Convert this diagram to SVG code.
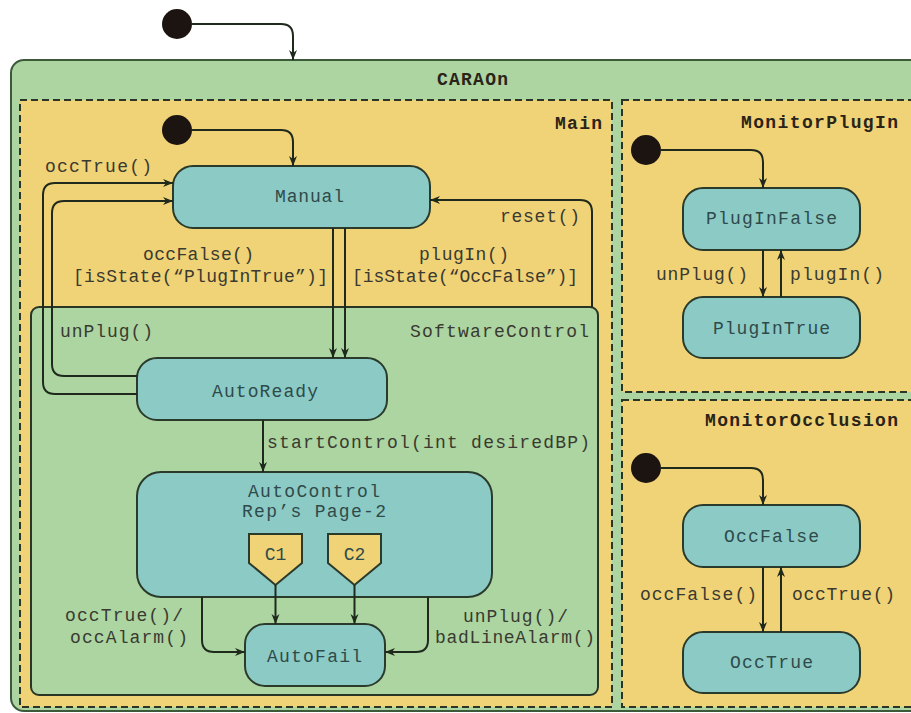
<svg xmlns="http://www.w3.org/2000/svg" width="911" height="713" viewBox="0 0 911 713">
  <defs>
    <marker id="arrow" viewBox="0 0 10 10" refX="10" refY="5" markerWidth="10" markerHeight="10" markerUnits="userSpaceOnUse" orient="auto">
      <path d="M0,1 L10,5 L0,9 L3,5 Z" fill="#1f2a1c"/>
    </marker>
    <style>
      .bg { fill: #ffffff; }
      .outer { fill: #acd5a2; stroke: #3c5a3a; stroke-width: 2; }
      .region { fill: #f0d277; stroke: #2a3526; stroke-width: 2; stroke-dasharray: 7 4; }
      .sub { fill: #acd5a2; stroke: #2a3526; stroke-width: 2; }
      .state { fill: #8ccac6; stroke: #2b3b2b; stroke-width: 2; }
      .conn { fill: #f0d277; stroke: #2b3b2b; stroke-width: 2; }
      .init { fill: #1c1410; }
      .edge { fill: none; stroke: #1f2a1c; stroke-width: 2; }
      .arr { marker-end: url(#arrow); }
      text { font-family: "Liberation Mono", "Courier New", monospace; font-size: 18px; fill: #3a3a30; lengthAdjust: spacing; }
      .title { font-weight: bold; fill: #2a2418; }
      .name { fill: #2f4a4a; }
    </style>
  </defs>

  <rect class="bg" x="0" y="0" width="911" height="713"/>

  <!-- top-level composite state -->
  <g id="CARAOn">
    <rect class="outer" x="11" y="60" width="930" height="651" rx="13"/>
    <text class="title" x="437" y="85" textLength="71">CARAOn</text>
  </g>

  <!-- orthogonal regions -->
  <g id="Main">
    <rect class="region" x="20" y="100" width="592" height="607"/>
    <text class="title" x="555" y="129" textLength="47">Main</text>
  </g>
  <g id="MonitorPlugIn">
    <rect class="region" x="622" y="100" width="310" height="292"/>
    <text class="title" x="741" y="128" textLength="157">MonitorPlugIn</text>
  </g>
  <g id="MonitorOcclusion">
    <rect class="region" x="622" y="400" width="310" height="307"/>
    <text class="title" x="705" y="426" textLength="193">MonitorOcclusion</text>
  </g>

  <g id="SoftwareControl">
    <rect class="sub" x="31" y="307" width="567" height="388" rx="8"/>
    <text x="410" y="337" textLength="179">SoftwareControl</text>
  </g>

  <!-- initial pseudo-states -->
  <g id="init-top"><circle class="init" cx="177" cy="24" r="15"/></g>
  <g id="init-main"><circle class="init" cx="177" cy="130" r="15"/></g>
  <g id="init-plugin"><circle class="init" cx="646" cy="150" r="15"/></g>
  <g id="init-occlusion"><circle class="init" cx="646" cy="468" r="15"/></g>

  <!-- states -->
  <g id="Manual">
    <rect class="state" x="173" y="166" width="257" height="62" rx="20"/>
    <text class="name" x="275" y="202" textLength="69">Manual</text>
  </g>
  <g id="AutoReady">
    <rect class="state" x="137" y="358" width="250" height="62" rx="20"/>
    <text class="name" x="212" y="397" textLength="106">AutoReady</text>
  </g>
  <g id="AutoControl">
    <rect class="state" x="137" y="472" width="355" height="125" rx="24"/>
    <text class="name" x="248" y="497" textLength="132">AutoControl</text>
    <text class="name" x="242" y="517" textLength="144">Rep’s Page-2</text>
  </g>
  <g id="C1">
    <path class="conn" d="M249,534 H302 V563 L275.5,585 L249,563 Z"/>
    <text class="name" x="275.5" y="560" text-anchor="middle">C1</text>
  </g>
  <g id="C2">
    <path class="conn" d="M328,534 H381 V563 L354.5,585 L328,563 Z"/>
    <text class="name" x="354.5" y="560" text-anchor="middle">C2</text>
  </g>
  <g id="AutoFail">
    <rect class="state" x="245" y="624" width="140" height="62" rx="20"/>
    <text class="name" x="267" y="662" textLength="95">AutoFail</text>
  </g>
  <g id="PlugInFalse">
    <rect class="state" x="683" y="188" width="177" height="62" rx="20"/>
    <text class="name" x="706" y="224" textLength="131">PlugInFalse</text>
  </g>
  <g id="PlugInTrue">
    <rect class="state" x="683" y="297" width="177" height="61" rx="20"/>
    <text class="name" x="713" y="334" textLength="117">PlugInTrue</text>
  </g>
  <g id="OccFalse">
    <rect class="state" x="683" y="505" width="177" height="62" rx="20"/>
    <text class="name" x="724" y="542" textLength="95">OccFalse</text>
  </g>
  <g id="OccTrue">
    <rect class="state" x="683" y="632" width="177" height="61" rx="20"/>
    <text class="name" x="730" y="668" textLength="83">OccTrue</text>
  </g>

  <!-- transitions -->
  <g id="connectors">
    <path class="edge arr" d="M192,24 H281 Q293,24 293,36 V60"/>
    <path class="edge arr" d="M192,130 H281 Q293,130 293,142 V166"/>
    <path class="edge arr" d="M137,394 H55 Q43,394 43,382 V195 Q43,183 55,183 H173"/>
    <path class="edge arr" d="M137,376 H64 Q52,376 52,364 V213 Q52,201 64,201 H173"/>
    <path class="edge arr" d="M333,228 V358"/>
    <path class="edge arr" d="M345,228 V358"/>
    <path class="edge arr" d="M592,307 V212 Q592,200 580,200 H430"/>
    <path class="edge arr" d="M263,420 V472"/>
    <path class="edge arr" d="M275.5,585 V624"/>
    <path class="edge arr" d="M354.5,585 V624"/>
    <path class="edge arr" d="M202,597 V640 Q202,652 214,652 H245"/>
    <path class="edge arr" d="M428,597 V640 Q428,652 416,652 H385"/>
    <path class="edge arr" d="M660,150 H751 Q763,150 763,162 V188"/>
    <path class="edge arr" d="M763,250 V297"/>
    <path class="edge arr" d="M781,297 V250"/>
    <path class="edge arr" d="M660,468 H751 Q763,468 763,480 V505"/>
    <path class="edge arr" d="M763,567 V632"/>
    <path class="edge arr" d="M781,632 V567"/>

    <text x="45" y="172" textLength="107">occTrue()</text>
    <text x="60" y="337" textLength="93">unPlug()</text>
    <text x="143" y="260" textLength="111">occFalse()</text>
    <text x="73" y="282" textLength="255">[isState(“PlugInTrue”)]</text>
    <text x="419" y="260" textLength="90">plugIn()</text>
    <text x="352" y="282" textLength="226">[isState(“OccFalse”)]</text>
    <text x="500" y="222" textLength="80">reset()</text>
    <text x="267" y="448" textLength="323">startControl(int desiredBP)</text>
    <text x="65" y="621" textLength="118">occTrue()/</text>
    <text x="70" y="643" textLength="118">occAlarm()</text>
    <text x="463" y="622" textLength="105">unPlug()/</text>
    <text x="435" y="643" textLength="160">badLineAlarm()</text>
    <text x="656" y="280" textLength="92">unPlug()</text>
    <text x="790" y="280" textLength="94">plugIn()</text>
    <text x="640" y="600" textLength="117">occFalse()</text>
    <text x="792" y="600" textLength="103">occTrue()</text>
  </g>
</svg>
